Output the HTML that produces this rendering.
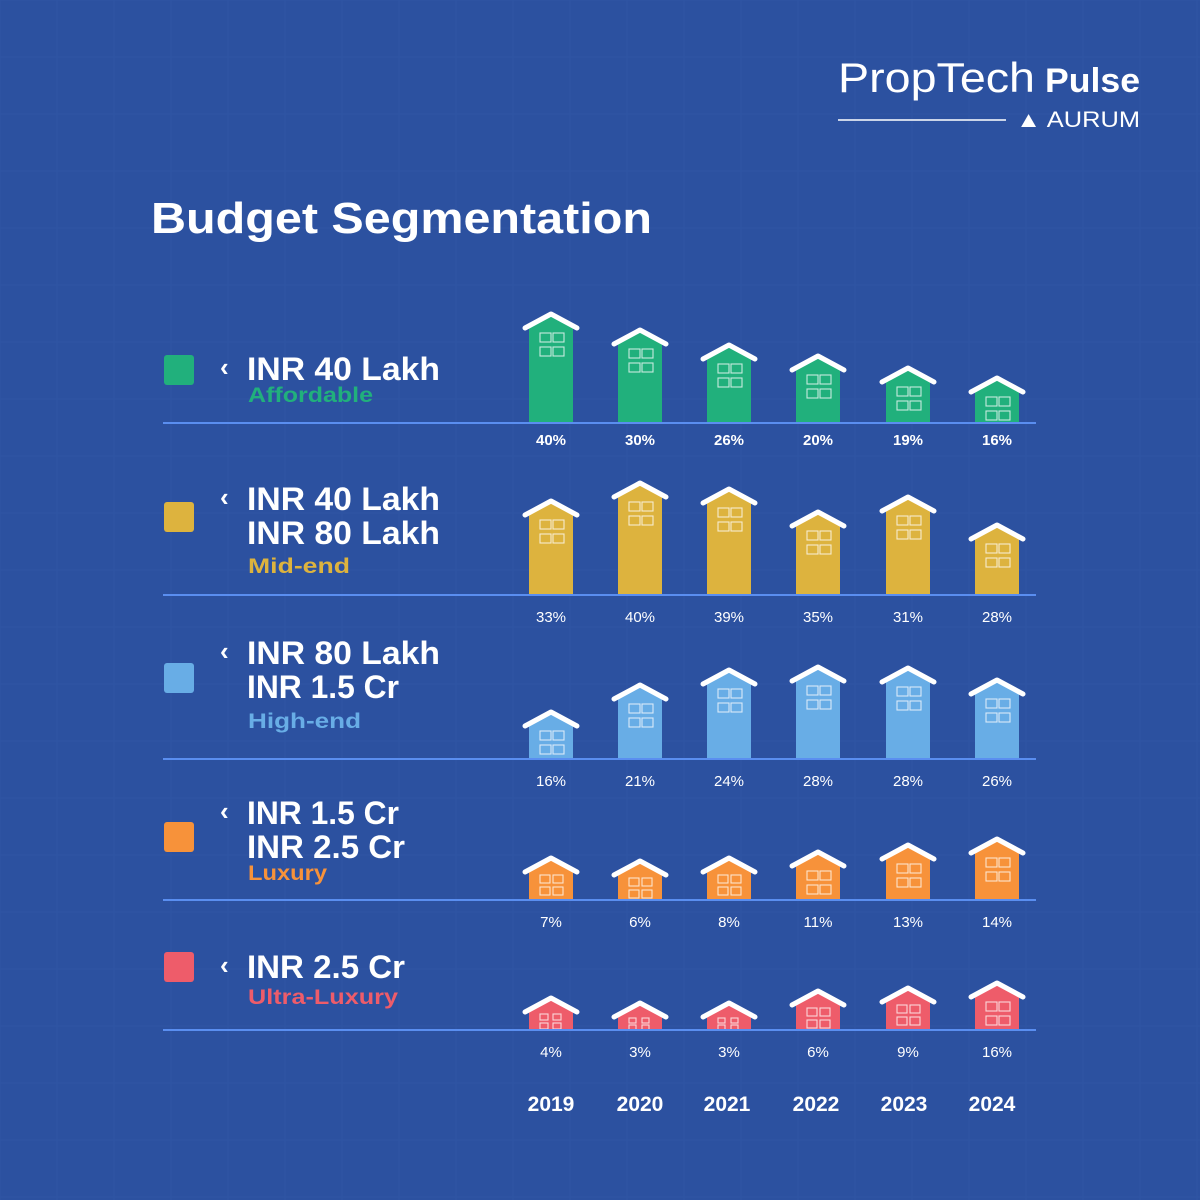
<!DOCTYPE html>
<html><head><meta charset="utf-8"><style>
html,body{margin:0;padding:0;background:#2c51a0;}
svg{display:block}
text{font-family:"Liberation Sans",sans-serif;}
</style></head><body>
<svg id="s" width="1200" height="1200" xmlns="http://www.w3.org/2000/svg">
<rect width="1200" height="1200" fill="#2c51a0"/>
<g id="grid" stroke="#2f55a4" stroke-width="1"></g>
<text x="838" y="92" font-size="42" fill="#fff" textLength="197" lengthAdjust="spacingAndGlyphs">PropTech</text>
<text x="1045" y="92" font-size="34" font-weight="bold" fill="#fff" textLength="95" lengthAdjust="spacingAndGlyphs">Pulse</text>
<line x1="838" y1="120" x2="1006" y2="120" stroke="#fff" stroke-width="1.5"/>
<text x="1016" y="127" font-size="22" fill="#fff" textLength="124" lengthAdjust="spacingAndGlyphs">▲ AURUM</text>
<text x="151" y="233" font-size="44" font-weight="bold" fill="#fff" textLength="501" lengthAdjust="spacingAndGlyphs">Budget Segmentation</text>
<g id="rows"></g>
</svg>
<script>
const NS="http://www.w3.org/2000/svg";
function el(p,t,a,txt){const e=document.createElementNS(NS,t);for(const k in a)e.setAttribute(k,a[k]);if(txt!==undefined)e.textContent=txt;p.appendChild(e);return e;}
const g=document.getElementById('grid');
for(let i=0;i<1200;i+=57){el(g,'line',{x1:i,y1:0,x2:i,y2:1200});el(g,'line',{x1:0,y1:i,x2:1200,y2:i});}
const R=document.getElementById('rows');
const xs=[551,640,729,818,908,997];
const rows=[
 {c:'#21b07c',base:423,lab:440,bold:true,peaks:[313,329,344,355,367,377],vals:['40%','30%','26%','20%','19%','16%'],sq:355,lines:['INR 40 Lakh'],ly:[380],sub:'Affordable',sy:402,sw:125},
 {c:'#ddb33e',base:595,lab:617,peaks:[500,482,488,511,496,524],vals:['33%','40%','39%','35%','31%','28%'],sq:502,lines:['INR 40 Lakh','INR 80 Lakh'],ly:[510,544],sub:'Mid-end',sy:573,sw:102},
 {c:'#68ade6',base:759,lab:781,peaks:[711,684,669,666,667,679],vals:['16%','21%','24%','28%','28%','26%'],sq:663,lines:['INR 80 Lakh','INR 1.5 Cr'],ly:[664,698],sub:'High-end',sy:728,sw:113},
 {c:'#f7923a',base:900,lab:922,peaks:[857,860,857,851,844,838],vals:['7%','6%','8%','11%','13%','14%'],sq:822,lines:['INR 1.5 Cr','INR 2.5 Cr'],ly:[824,858],sub:'Luxury',sy:880,sw:79},
 {c:'#ee5c6a',base:1030,lab:1052,peaks:[997,1002,1002,990,987,982],vals:['4%','3%','3%','6%','9%','16%'],sq:952,lines:['INR 2.5 Cr'],ly:[978],sub:'Ultra-Luxury',sy:1004,sw:150}
];
const lw={'INR 40 Lakh':193,'INR 80 Lakh':193,'INR 1.5 Cr':152,'INR 2.5 Cr':158};
rows.forEach(r=>{
 el(R,'rect',{x:164,y:r.sq,width:30,height:30,rx:3,fill:r.c});
 el(R,'text',{x:220,y:r.ly[0]-4,'font-size':26,'font-weight':'bold',fill:'#fff'},'‹');
 r.lines.forEach((l,i)=>el(R,'text',{x:247,y:r.ly[i],'font-size':32,'font-weight':'bold',fill:'#fff',textLength:lw[l],lengthAdjust:'spacingAndGlyphs'},l));
 el(R,'text',{x:248,y:r.sy,'font-size':21,'font-weight':'bold',fill:r.c,textLength:r.sw,lengthAdjust:'spacingAndGlyphs'},r.sub);
 xs.forEach((x,i)=>{
  const p=r.peaks[i],eave=p+14,b=r.base;
  el(R,'polygon',{points:`${x-22},${b} ${x-22},${eave} ${x},${p+2} ${x+22},${eave} ${x+22},${b}`,fill:r.c});
  el(R,'polyline',{points:`${x-26},${p+15} ${x},${p+1} ${x+26},${p+15}`,fill:'none',stroke:'#fff','stroke-width':5,'stroke-linecap':'round','stroke-linejoin':'round'});
  const h=b-eave;
  let ws,gap,wy,wgap;
  if(h<22){ws=6;gap=3;wy=eave+3;}else if(h<32){ws=8;gap=4;wy=eave+4;}else{ws=9;gap=5;wy=eave+6;}
  if(h<16){ws=5;gap=2;wy=eave+2;}
  for(let a=0;a<2;a++)for(let c=0;c<2;c++)
   el(R,'rect',{x:x-11+c*13,y:wy+a*(ws+gap),width:ws+2,height:ws,fill:'none',stroke:'#fff','stroke-opacity':0.75,'stroke-width':1.1});
  el(R,'text',{x:x,y:r.lab+5,'font-size':15,'font-weight':r.bold?'bold':'normal',fill:'#fff','text-anchor':'middle'},r.vals[i]);
 });
 el(R,'line',{x1:163,y1:r.base,x2:1036,y2:r.base,stroke:'#5a8ef0','stroke-width':2});
});
['2019','2020','2021','2022','2023','2024'].forEach((y,i)=>el(R,'text',{x:[551,640,727,816,904,992][i],y:1111,'font-size':21,'font-weight':'bold',fill:'#fff','text-anchor':'middle'},y));
</script>
</body></html>
